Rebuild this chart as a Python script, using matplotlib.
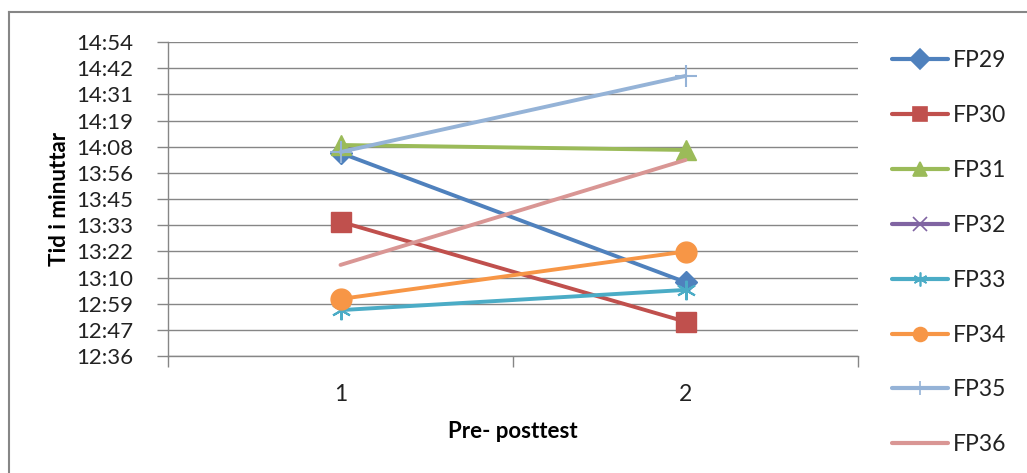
import matplotlib
matplotlib.use("Agg")
import matplotlib.pyplot as plt
from matplotlib.lines import Line2D
from matplotlib.ticker import FixedLocator, FixedFormatter

plt.rcParams['font.family'] = ['Lato', 'DejaVu Sans']

# Data: times in minutes since midnight (hh*60 + mm)
categories = ["1", "2"]
series_names = ["FP29", "FP30", "FP31", "FP32", "FP33", "FP34", "FP35", "FP36"]
fp29 = [845.4, 788.5]
fp30 = [815.1, 771.1]
fp31 = [848.9, 846.7]
fp32 = [float('nan'), float('nan')]
fp33 = [776.2, 785.1]
fp34 = [781.1, 802.0]
fp35 = [845.8, 879.3]
fp36 = [796.1, 842.3]
series_values = [fp29, fp30, fp31, fp32, fp33, fp34, fp35, fp36]

y_tick_labels = ["12:36", "12:47", "12:59", "13:10", "13:22", "13:33", "13:45",
                 "13:56", "14:08", "14:19", "14:31", "14:42", "14:54"]
y_start = 756.0
y_step = 11.52

colors = ["#4F81BD", "#C0504D", "#9BBB59", "#8064A2", "#4BACC6", "#F79646", "#95B3D7", "#D99694"]
markers = ["D", "s", "^", "x", (6, 2, 0), "o", "+", None]
msizes = [11, 14, 14, 12, 14, 15, 16, 0]
medges = [1, 1, 1, 1.2, 1.5, 1, 1.5, 0]

W, H = 1027, 473
fig = plt.figure(figsize=(W / 100, H / 100), dpi=100)
ax = fig.add_axes([168 / W, (H - 356) / H, (858 - 168) / W, (356 - 42) / H])

x = list(range(1, len(categories) + 1))
for vals, c, m, ms, me, name in zip(series_values, colors, markers, msizes, medges, series_names):
    ax.plot(x, vals, color=c, lw=2.8, marker=m, markersize=ms,
            markeredgewidth=me, markeredgecolor=c, markerfacecolor=c,
            label=name, solid_capstyle='round', clip_on=False)

y_ticks = [y_start + i * y_step for i in range(len(y_tick_labels))]
ax.set_ylim(y_ticks[0], y_ticks[-1])
ax.yaxis.set_major_locator(FixedLocator(y_ticks))
ax.yaxis.set_major_formatter(FixedFormatter(y_tick_labels))
ax.set_xlim(0.5, len(categories) + 0.5)
ax.set_xticks(x)
ax.set_xticklabels(categories)
ax.set_xticks([0.5, 1.5, 2.5], minor=True)
ax.tick_params(axis='x', which='major', length=0, pad=20, labelsize=16.5, colors='#222222')
ax.tick_params(axis='x', which='minor', length=8, width=1, color='#868686', direction='out')
ax.tick_params(axis='y', length=8, width=1, color='#868686', direction='out', pad=17,
               labelsize=16, labelcolor='#222222')

ax.grid(axis='y', color='#868686', lw=1)
ax.set_axisbelow(True)
for s in ['top', 'right']:
    ax.spines[s].set_visible(False)
for s in ['left', 'bottom']:
    ax.spines[s].set_color('#868686')
    ax.spines[s].set_linewidth(1)

ax.set_ylabel("Tid i minuttar", fontsize=16, fontweight='bold')
ax.yaxis.set_label_coords(-0.142, 0.5)
ax.set_xlabel("Pre- posttest", fontsize=16, fontweight='bold', labelpad=12)

# legend
handles = []
for c, m, name in zip(colors, markers, series_names):
    handles.append(Line2D([], [], color=c, lw=3, marker=m,
                          markersize=10 if m is not None else 0,
                          markeredgecolor=c, markerfacecolor=c,
                          markeredgewidth=1.2, solid_capstyle='round'))
leg = fig.legend(handles, series_names, loc='upper left',
                 bbox_to_anchor=(892 / W, (H - 50) / H), frameon=False,
                 fontsize=16.5, handlelength=2.45, handletextpad=0.2,
                 labelspacing=1.48, borderaxespad=0, borderpad=0)
for t in leg.get_texts():
    t.set_color('#222222')

# outer chart border
fig.add_artist(Line2D([9 / W, 9 / W], [0, (H - 12.5) / H], color='#868686', lw=1.5, transform=fig.transFigure))
fig.add_artist(Line2D([9 / W, 1], [(H - 12.5) / H, (H - 12.5) / H], color='#868686', lw=1.5, transform=fig.transFigure))

fig.savefig("out.png", dpi=100)
